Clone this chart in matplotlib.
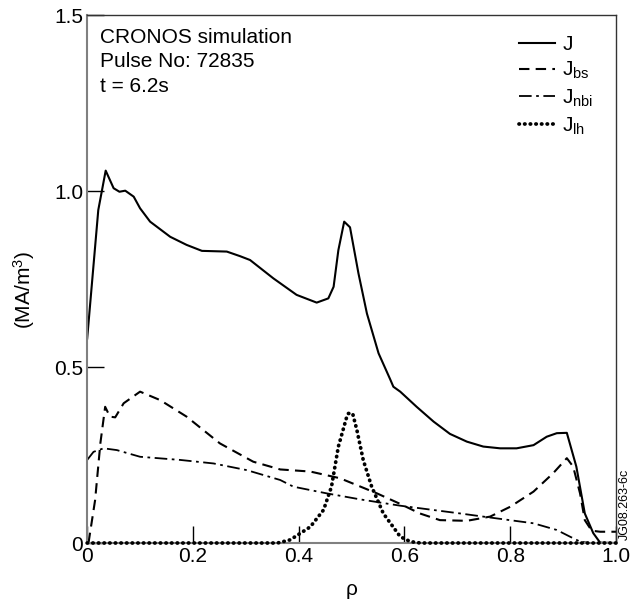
import matplotlib
matplotlib.use("Agg")
import matplotlib.pyplot as plt

plt.rcParams['font.family'] = ['Liberation Sans', 'DejaVu Sans']
plt.rcParams['mathtext.default'] = 'regular'

# J (total)
j_x = [0.0, 0.021, 0.035, 0.050, 0.061, 0.072, 0.088, 0.100, 0.119, 0.157, 0.188, 0.217,
       0.264, 0.289, 0.308, 0.352, 0.396, 0.434, 0.456, 0.466, 0.475, 0.486, 0.497, 0.513,
       0.529, 0.551, 0.573, 0.579, 0.592, 0.623, 0.655, 0.686, 0.718, 0.749, 0.781, 0.812,
       0.844, 0.869, 0.888, 0.907, 0.925, 0.941, 0.957, 0.970, 1.0]
j_y = [0.581, 0.946, 1.058, 1.008, 0.998, 1.001, 0.984, 0.951, 0.913, 0.870, 0.847, 0.830,
       0.828, 0.815, 0.804, 0.752, 0.705, 0.683, 0.695, 0.728, 0.832, 0.913, 0.897, 0.766,
       0.652, 0.539, 0.465, 0.444, 0.430, 0.387, 0.345, 0.310, 0.288, 0.274, 0.269, 0.269,
       0.278, 0.302, 0.312, 0.313, 0.217, 0.084, 0.028, 0.001, 0.0]

# J_bs (bootstrap)
bs_x = [0.0025, 0.015, 0.025, 0.034, 0.043, 0.053, 0.069, 0.100, 0.138, 0.188, 0.251,
        0.314, 0.365, 0.422, 0.478, 0.548, 0.592, 0.629, 0.667, 0.718, 0.762, 0.800,
        0.844, 0.881, 0.907, 0.919, 0.932, 0.941, 0.954, 0.970, 1.0]
bs_y = [0.0, 0.122, 0.284, 0.387, 0.359, 0.357, 0.397, 0.430, 0.406, 0.359, 0.283,
        0.231, 0.209, 0.203, 0.184, 0.141, 0.111, 0.084, 0.065, 0.063, 0.075, 0.103,
        0.146, 0.198, 0.241, 0.217, 0.141, 0.065, 0.035, 0.032, 0.032]

# J_nbi (neutral beam)
nbi_x = [0.0, 0.012, 0.031, 0.056, 0.100, 0.176, 0.239, 0.302, 0.365, 0.390, 0.453,
         0.516, 0.592, 0.705, 0.749, 0.844, 0.888, 0.913, 0.932, 0.950, 1.0]
nbi_y = [0.236, 0.259, 0.269, 0.264, 0.245, 0.236, 0.226, 0.207, 0.179, 0.160, 0.141,
         0.124, 0.106, 0.084, 0.075, 0.056, 0.037, 0.018, 0.004, 0.0, 0.0]

# J_lh (lower hybrid)
lh_x = [0.0, 0.36, 0.384, 0.422, 0.447, 0.462, 0.475, 0.490, 0.494, 0.502, 0.510, 0.522,
        0.538, 0.560, 0.592, 0.611, 0.63, 1.0]
lh_y = [0.0, 0.0, 0.009, 0.046, 0.094, 0.160, 0.274, 0.354, 0.368, 0.368, 0.321, 0.236,
        0.160, 0.084, 0.018, 0.004, 0.0, 0.0]

x_ticks = [0, 0.2, 0.4, 0.6, 0.8, 1.0]
x_ticklabels = ['0', '0.2', '0.4', '0.6', '0.8', '1.0']
y_ticks = [0, 0.5, 1.0, 1.5]
y_ticklabels = ['0', '0.5', '1.0', '1.5']

fig = plt.figure(figsize=(6.41, 6.02), dpi=100)
ax = fig.add_axes([0.136, 0.098, 0.825, 0.877])

ax.plot(j_x, j_y, color='black', lw=1.5, ls='-', label='J')
ax.plot(bs_x, bs_y, color='black', lw=1.5, ls=(0, (5, 3)), label='J$_{bs}$')
ax.plot(nbi_x, nbi_y, color='black', lw=1.3, ls=(0, (7, 2.5, 1.5, 2.5)), label='J$_{nbi}$')
ax.plot(lh_x, lh_y, color='black', lw=2.7, ls=(0, (0.1, 1.4)), dash_capstyle='round',
        clip_on=False, label='J$_{lh}$', zorder=3)

ax.set_xlim(0, 1.0)
ax.set_ylim(0, 1.5)
ax.set_xticks(x_ticks)
ax.set_xticklabels(x_ticklabels)
ax.set_yticks(y_ticks)
ax.set_yticklabels(y_ticklabels)
ax.tick_params(direction='in', length=12, width=1, labelsize=15, pad=3, colors='black')

for side in ['left', 'bottom']:
    ax.spines[side].set_color('#808080')
    ax.spines[side].set_linewidth(1.5)
for side in ['top', 'right']:
    ax.spines[side].set_color('#333333')
    ax.spines[side].set_linewidth(1.0)

ax.set_xlabel('ρ', fontsize=15, labelpad=10)
ax.set_ylabel('(MA/m$^3$)', fontsize=15)
ax.yaxis.set_label_coords(-0.095, 0.48)

ax.text(0.025, 0.975, 'CRONOS simulation\nPulse No: 72835\nt = 6.2s',
        transform=ax.transAxes, ha='left', va='top', fontsize=15, linespacing=1.35)

leg = ax.legend(loc='upper right', frameon=False, fontsize=15, handlelength=1.75,
                handletextpad=0.35, labelspacing=0.3, borderaxespad=0.3,
                bbox_to_anchor=(0.985, 0.99))

fig.text(0.975, 0.103, 'JG08.263-6c', rotation=90, fontsize=9, ha='center', va='bottom')

fig.savefig('out.png', dpi=100)
